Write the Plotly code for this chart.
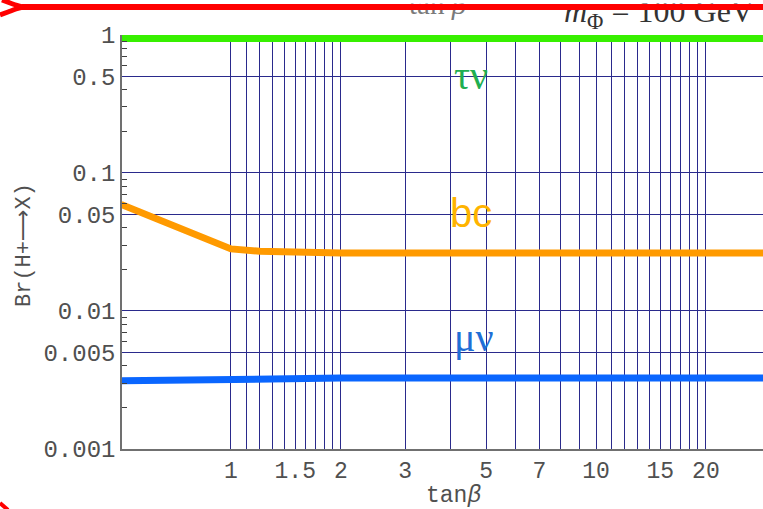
import plotly.graph_objects as go

# ---------------- data ----------------
tanb = [0.5, 1, 1.2, 1.5, 2, 3, 5, 10, 20, 30]
br_taunu = [0.94, 0.94, 0.94, 0.94, 0.94, 0.94, 0.94, 0.94, 0.94, 0.94]
br_bc = [0.059, 0.0281, 0.0270, 0.0264, 0.0263, 0.0263, 0.0263, 0.0263, 0.0263, 0.0263]
br_munu = [0.00312, 0.00322, 0.00324, 0.00325, 0.00326, 0.00326, 0.00326, 0.00326, 0.00326, 0.00326]

x_grid = [1, 1.1, 1.2, 1.3, 1.4, 1.5, 1.6, 1.7, 1.8, 1.9, 2,
          3, 4, 5, 6, 7, 8, 9, 10,
          11, 12, 13, 14, 15, 16, 17, 18, 19, 20]
x_labels = {1: "1", 1.5: "1.5", 2: "2", 3: "3", 5: "5", 7: "7", 10: "10", 15: "15", 20: "20"}
y_ticks = [0.001, 0.005, 0.01, 0.05, 0.1, 0.5, 1]
y_ticktext = ["0.001", "0.005", "0.01", "0.05", "0.1", "0.5", "1"]
y_minor = [0.002, 0.003, 0.004, 0.006, 0.007, 0.008, 0.009,
           0.02, 0.03, 0.04, 0.06, 0.07, 0.08, 0.09,
           0.2, 0.3, 0.4, 0.6, 0.7, 0.8, 0.9]

W, H = 763, 509
# plot area in pixels
PL, PR, PT, PB = 122, 763, 34.7, 449
x_range = [-0.2986, 1.4575]

GRID = "#2a2a8c"
MONO = "Liberation Mono, DejaVu Sans Mono, monospace"
SERIF = "Liberation Serif"

fig = go.Figure()

fig.add_trace(go.Scatter(x=tanb, y=br_taunu, mode="lines",
                         line=dict(color="#38f000", width=7), showlegend=False))
fig.add_trace(go.Scatter(x=tanb, y=br_bc, mode="lines",
                         line=dict(color="#ff9a00", width=7), showlegend=False))
fig.add_trace(go.Scatter(x=tanb, y=br_munu, mode="lines",
                         line=dict(color="#0a66ff", width=7), showlegend=False))

# ---- decoration overlay (cropped header text and red border) ----
deco = dict(xaxis="x2", yaxis="y2", showlegend=False, hoverinfo="skip")
fig.add_trace(go.Scatter(x=[409], y=[7], mode="text", text=["tan <i>β</i>"],
                         textposition="middle right",
                         textfont=dict(family=SERIF, size=29, color="#7a7a7a"), **deco))
fig.add_trace(go.Scatter(x=[564], y=[14], mode="text",
                         text=["<i>m</i><sub>Φ</sub> = 100 GeV"],
                         textposition="middle right",
                         textfont=dict(family=SERIF, size=32, color="#333333"), **deco))
# white strip above the red border (hides the cropped top of the header text)
fig.add_trace(go.Scatter(x=[0, 763], y=[1.5, 1.5], mode="lines",
                         line=dict(color="white", width=4), **deco))
fig.add_trace(go.Scatter(x=[22, 763], y=[7, 7], mode="lines",
                         line=dict(color="#ff0000", width=6), **deco))
fig.add_trace(go.Scatter(x=[0, 8, 16, 23], y=[15, 12, 9, 7], mode="lines",
                         line=dict(color="#ff0000", width=5, shape="spline"), **deco))
fig.add_trace(go.Scatter(x=[2, 10, 17, 23], y=[0, 3, 5.5, 7], mode="lines",
                         line=dict(color="#ff0000", width=5, shape="spline"), **deco))
fig.add_trace(go.Scatter(x=[0, 4, 8], y=[503, 506, 510], mode="lines",
                         line=dict(color="#ff0000", width=4), **deco))

fig.update_layout(
    width=W, height=H,
    margin=dict(l=0, r=0, t=0, b=0),
    paper_bgcolor="white", plot_bgcolor="rgba(0,0,0,0)",
    xaxis=dict(
        type="log", range=x_range,
        domain=[PL / W, PR / W],
        tickvals=x_grid,
        ticktext=[x_labels.get(v, "") for v in x_grid],
        showgrid=True, gridcolor=GRID, gridwidth=1,
        ticks="", showline=True, linecolor="#707070", linewidth=1.5,
        zeroline=False, automargin=False,
        tickfont=dict(family=MONO, size=23, color="#505050"),
        anchor="y",
    ),
    yaxis=dict(
        type="log", range=[-3, 0],
        domain=[(H - PB) / H, (H - PT) / H],
        tickvals=y_ticks, ticktext=y_ticktext,
        showgrid=True, gridcolor=GRID, gridwidth=1,
        ticks="", showline=True, linecolor="#707070", linewidth=1.5,
        zeroline=False, automargin=False,
        tickfont=dict(family=MONO, size=24, color="#505050"),
        minor=dict(tickvals=y_minor, ticks="inside", ticklen=5,
                   tickcolor="#404040", tickwidth=1, showgrid=False),
        anchor="x",
    ),
    xaxis2=dict(domain=[0, 1], range=[0, W], visible=False, anchor="y2",
                fixedrange=True),
    yaxis2=dict(domain=[0, 1], range=[H, 0], visible=False, anchor="x2",
                fixedrange=True),
    annotations=[
        dict(text="τν", xref="paper", yref="paper", x=471 / W, y=1 - 76 / H,
             xanchor="center", yanchor="middle", showarrow=False,
             font=dict(family=SERIF, size=40, color="#1fae50")),
        dict(text="bc", xref="paper", yref="paper", x=471 / W, y=1 - 213 / H,
             xanchor="center", yanchor="middle", showarrow=False,
             font=dict(family="Liberation Sans", size=40, color="#ffb400")),
        dict(text="μν", xref="paper", yref="paper", x=474 / W, y=1 - 337 / H,
             xanchor="center", yanchor="middle", showarrow=False,
             font=dict(family=SERIF, size=40, color="#1f6fd6")),
        dict(text="Br(H+<span style='font-family:DejaVu Sans'>⟶</span>X)",
             xref="paper", yref="paper", x=23 / W, y=1 - 245 / H,
             xanchor="center", yanchor="middle", showarrow=False, textangle=-90,
             font=dict(family=MONO, size=22, color="#505050")),
        dict(text="tan<i>β</i>", xref="paper", yref="paper", x=453 / W, y=1 - 496 / H,
             xanchor="center", yanchor="middle", showarrow=False,
             font=dict(family=MONO, size=23, color="#505050")),
    ],
)

fig.write_html("out.html")
